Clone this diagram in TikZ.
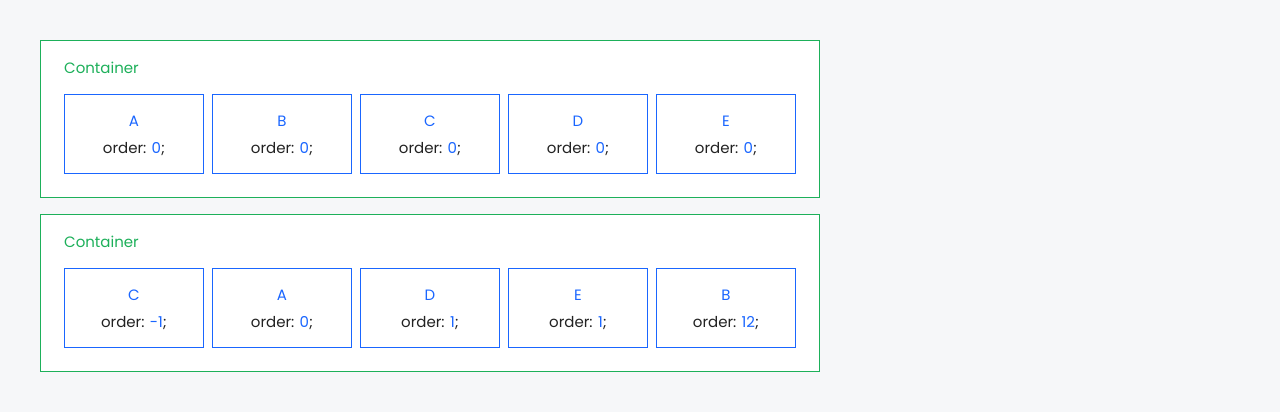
\documentclass[tikz,border=0pt]{standalone}
\usepackage{fontspec}
\setmainfont{Poppins}
\usetikzlibrary{positioning}
\definecolor{bgcol}{HTML}{F6F7F9}
\definecolor{contgreen}{HTML}{1DB05A}
\definecolor{itemblue}{HTML}{1A66FF}
\definecolor{txtdark}{HTML}{222222}
\tikzset{
	container/.style={draw=contgreen, fill=white, line width=1pt, minimum width=779pt, minimum height=157pt, inner sep=0pt},
	contlabel/.style={anchor=west, text=contgreen, inner sep=0pt},
	item/.style={draw=itemblue, line width=1pt, minimum width=139pt, minimum height=79pt, inner sep=0pt, align=center, text=txtdark, font=\fontsize{15}{27}\selectfont},
}
\newcommand{\bl}[1]{\textcolor{itemblue}{#1}}
\newcommand{\ordtxt}[2]{\rule{0pt}{14.5pt}\bl{#1}\\order: \bl{#2};}
\begin{document}
\begin{tikzpicture}[x=1pt, y=-1pt, font=\fontsize{15}{18}\selectfont, node distance=8pt]
	\useasboundingbox (0,0) rectangle (1280,412);
	\fill[bgcol] (0,0) rectangle (1280,412);
	% top row
	\node[container, anchor=north west] (C1) at (40,40) {};
	\node[contlabel] (L1) at (64,68) {Container};
	\node[item, anchor=north west] (A1) at (64,94) {\ordtxt{A}{0}};
	\node[item, right=of A1] (B1) {\ordtxt{B}{0}};
	\node[item, right=of B1] (C1b) {\ordtxt{C}{0}};
	\node[item, right=of C1b] (D1) {\ordtxt{D}{0}};
	\node[item, right=of D1] (E1) {\ordtxt{E}{0}};
	% bottom row
	\node[container, anchor=north west] (C2) at (40,214) {};
	\node[contlabel] (L2) at (64,242) {Container};
	\node[item, anchor=north west] (C2b) at (64,268) {\ordtxt{C}{-1}};
	\node[item, right=of C2b] (A2) {\ordtxt{A}{0}};
	\node[item, right=of A2] (D2) {\ordtxt{D}{1}};
	\node[item, right=of D2] (E2) {\ordtxt{E}{1}};
	\node[item, right=of E2] (B2) {\ordtxt{B}{12}};
\end{tikzpicture}
\end{document}
